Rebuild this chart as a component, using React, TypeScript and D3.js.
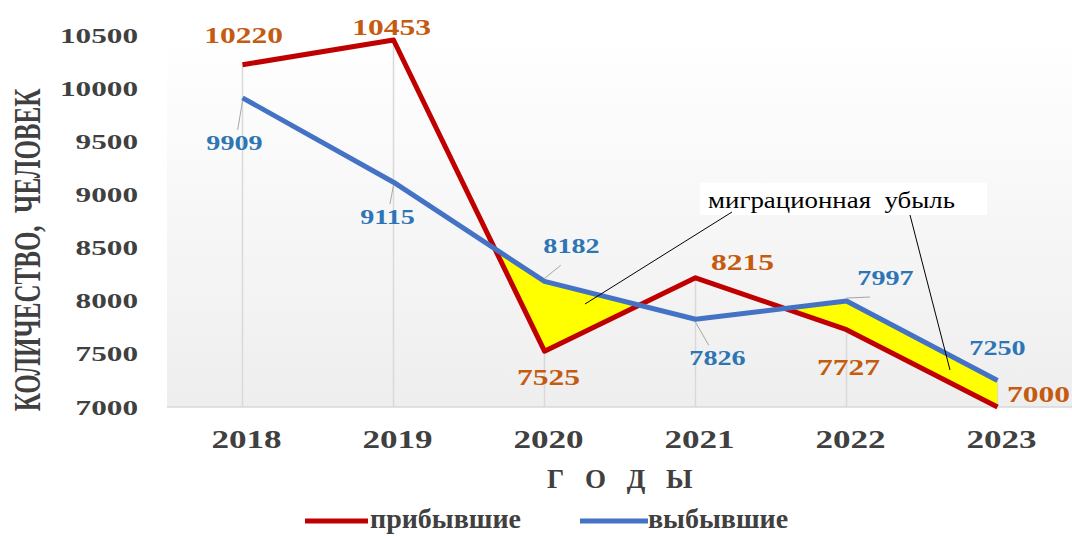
import React from 'react';
import * as d3 from 'd3';

// data
const years = ['2018', '2019', '2020', '2021', '2022', '2023'];
const arrived = [10220, 10453, 7525, 8215, 7727, 7000];   // прибывшие
const departed = [9909, 9115, 8182, 7826, 7997, 7250];   // выбывшие
const yTicks = [7000, 7500, 8000, 8500, 9000, 9500, 10000, 10500];
const seriesNames = ['прибывшие', 'выбывшие'];
const noteText = 'миграционная  убыль';

// layout: label offsets from their points (dx of centre, dy of baseline)
const arrivedLabelPos = [[1, -22], [-2, -5], [4, 34], [47, -8], [2, 45], [41, -5]];
const departedLabelPos = [[-8, 52], [-6, 42], [27, -28], [22, 46], [39, -16], [0, -25]];

const W = 1072, H = 536;
const left = 167, right = 1073, top = 35, bottom = 407;
const RED = '#C00000', BLUE = '#4472C4';
const RED_TXT = '#C55A11', BLUE_TXT = '#2E75B6', GREY_TXT = '#404040';
const FONT = '"Liberation Serif", "Times New Roman", serif';

function SText(props: any) {
  const { x, y, sx = 1, anchor = 'middle', size, fill, weight = 'bold', children, spacing } = props;
  return (
    <g transform={`translate(${x},${y}) scale(${sx},1)`}>
      <text textAnchor={anchor} fontSize={size} fill={fill} fontWeight={weight}
        fontFamily={FONT} letterSpacing={spacing} style={{ whiteSpace: 'pre' }}>{children}</text>
    </g>
  );
}

export default function App() {
  const x = d3.scalePoint<string>().domain(years).range([left, right]).padding(0.5);
  const y = d3.scaleLinear().domain([7000, 10500]).range([bottom, top]);

  const line = d3.line<number>().x((_, i) => x(years[i])!).y(d => y(d));
  const underBlue = d3.area<number>().x((_, i) => x(years[i])!).y0(H).y1(d => y(d));
  const overRed = d3.area<number>().x((_, i) => x(years[i])!).y0(d => y(d)).y1(0);

  const px = (i: number) => x(years[i])!;

  return (
    <svg width={W} height={H} style={{ position: 'absolute', left: 0, top: 0, display: 'block', background: '#fff' }}>
      <defs>
        <linearGradient id="plotBg" x1="0" y1="0" x2="0" y2="1">
          <stop offset="0" stopColor="#ffffff" />
          <stop offset="1" stopColor="#eeeeee" />
        </linearGradient>
        <clipPath id="underBlue">
          <path d={underBlue(departed)!} />
        </clipPath>
      </defs>

      <rect x={left} y={top} width={right - left} height={bottom - top} fill="url(#plotBg)" />

      {/* drop lines */}
      {years.map((yr, i) => (
        <line key={yr} x1={px(i)} x2={px(i)} y1={y(Math.max(arrived[i], departed[i]))} y2={bottom}
          stroke="#d9d9d9" strokeWidth={1.5} />
      ))}
      <line x1={left} x2={right} y1={bottom} y2={bottom} stroke="#d9d9d9" strokeWidth={1.5} />

      {/* y ticks */}
      {yTicks.map(t => (
        <SText key={t} x={138} y={y(t) + 7.5} sx={1.42} anchor="end" size={22} fill={GREY_TXT}>{t}</SText>
      ))}
      {/* x ticks */}
      {years.map((yr, i) => (
        <SText key={yr} x={px(i) + 4} y={448} sx={1.35} size={26} fill={GREY_TXT}>{yr}</SText>
      ))}

      {/* axis titles */}
      <g transform={`translate(40,250) scale(1.5,1) rotate(-90)`}>
        <text textAnchor="middle" fontSize={25} fontWeight="bold" fill={GREY_TXT} fontFamily={FONT}
          style={{ whiteSpace: 'pre' }}>
          {'КОЛИЧЕСТВО,  ЧЕЛОВЕК'}
        </text>
      </g>
      <SText x={547} y={488} anchor="start" size={27} fill={GREY_TXT} spacing={7}>Г О Д Ы</SText>

      {/* migration loss */}
      <path d={overRed(arrived)!} clipPath="url(#underBlue)" fill="#FFFF00" />

      <path d={line(arrived)!} fill="none" stroke={RED} strokeWidth={5} strokeLinejoin="round" />
      <path d={line(departed)!} fill="none" stroke={BLUE} strokeWidth={5} strokeLinejoin="round" />

      {/* leader lines of blue labels */}
      {departed.map((d, i) => {
        const [dx, dy] = departedLabelPos[i];
        const lx = px(i) + dx * 0.6, ly = y(d) + (dy > 0 ? dy - 20 : dy + 12);
        if (i === 5) return null;
        return <line key={i} x1={px(i)} y1={y(d) + (dy > 0 ? 3 : -3)} x2={lx} y2={ly} stroke="#a6a6a6" strokeWidth={1} />;
      })}

      {/* data labels */}
      {arrived.map((d, i) => (
        <SText key={'a' + i} x={px(i) + arrivedLabelPos[i][0]} y={y(d) + arrivedLabelPos[i][1]}
          sx={1.37} size={23} fill={RED_TXT}>{d}</SText>
      ))}
      {departed.map((d, i) => (
        <SText key={'d' + i} x={px(i) + departedLabelPos[i][0]} y={y(d) + departedLabelPos[i][1]}
          sx={1.28} size={22} fill={BLUE_TXT}>{d}</SText>
      ))}

      {/* annotation */}
      <rect x={700} y={183} width={287} height={32} fill="#fff" />
      <SText x={708} y={208} sx={1.12} anchor="start" size={24} weight="normal" fill="#000">{noteText}</SText>
      <line x1={732} y1={212} x2={585} y2={304} stroke="#000" strokeWidth={1} />
      <line x1={910} y1={215} x2={950} y2={370} stroke="#000" strokeWidth={1} />

      {/* legend */}
      <line x1={305} x2={368} y1={521} y2={521} stroke={RED} strokeWidth={5} />
      <text x={370} y={528} fontSize={28} fontWeight="bold" fill={GREY_TXT} fontFamily={FONT}>{seriesNames[0]}</text>
      <line x1={580} x2={648} y1={521} y2={521} stroke={BLUE} strokeWidth={5} />
      <text x={648} y={528} fontSize={28} fontWeight="bold" fill={GREY_TXT} fontFamily={FONT}>{seriesNames[1]}</text>
    </svg>
  );
}
